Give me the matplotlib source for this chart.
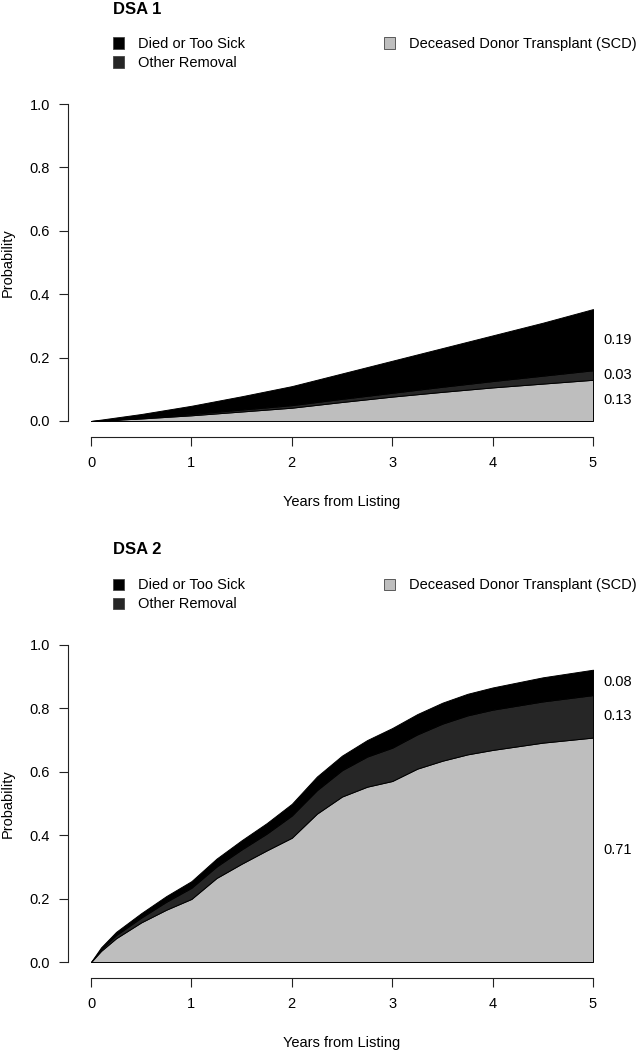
import numpy as np
import matplotlib.pyplot as plt
from matplotlib.patches import Rectangle

plt.rcParams['font.family'] = ['Liberation Sans', 'DejaVu Sans']
plt.rcParams['font.size'] = 10.5

# DSA 1: cumulative incidence by years from listing
years_1 = [0, 0.5, 1, 1.5, 2, 2.5, 3, 3.5, 4, 4.5, 5]
transplant_1 = [0, 0.008, 0.018, 0.03, 0.042, 0.06, 0.077, 0.092, 0.106, 0.118, 0.13]
other_1 = [0, 0.002, 0.004, 0.006, 0.008, 0.01, 0.012, 0.016, 0.02, 0.025, 0.03]
died_1 = [0, 0.012, 0.026, 0.042, 0.06, 0.08, 0.101, 0.122, 0.144, 0.167, 0.193]

# DSA 2
years_2 = [0, 0.1, 0.25, 0.5, 0.75, 1.0, 1.25, 1.5, 1.75, 2.0,
           2.25, 2.5, 2.75, 3.0, 3.25, 3.5, 3.75, 4.0, 4.5, 5.0]
transplant_2 = [0, 0.035, 0.075, 0.125, 0.165, 0.199, 0.265, 0.31, 0.352, 0.392,
                0.468, 0.522, 0.553, 0.571, 0.61, 0.635, 0.655, 0.669, 0.692, 0.708]
other_2 = [0, 0.005, 0.01, 0.015, 0.025, 0.035, 0.036, 0.045, 0.053, 0.07,
           0.074, 0.083, 0.095, 0.105, 0.108, 0.117, 0.123, 0.127, 0.13, 0.134]
died_2 = [0, 0.006, 0.01, 0.014, 0.018, 0.021, 0.025, 0.029, 0.033, 0.037,
          0.043, 0.046, 0.052, 0.062, 0.064, 0.066, 0.068, 0.07, 0.076, 0.08]

outcomes = ['Died or Too Sick', 'Other Removal', 'Deceased Donor Transplant (SCD)']
outcome_colors = ['#000000', '#262626', '#bebebe']

W, H = 640, 1050


def fx(px):
    return px / W


def fy(py):
    return 1 - py / H


def draw_panel(fig, off, title, years, transplant, other, died):
    ax = fig.add_axes([fx(91), fy(421 + off), (593 - 91) / W, 317 / H])

    # stacked from the bottom: transplant, other removal, died
    polys = ax.stackplot(years, transplant, other, died,
                         colors=[outcome_colors[2], outcome_colors[1], outcome_colors[0]],
                         edgecolor='black', linewidth=0.7)
    for p in polys:
        p.set_clip_on(False)

    ax.set_xlim(0, 5)
    ax.set_ylim(0, 1)
    ax.set_xticks(range(6))
    ax.set_yticks(np.arange(0, 1.01, 0.2))
    ax.set_yticklabels(['0.0', '0.2', '0.4', '0.6', '0.8', '1.0'])

    ax.spines['top'].set_visible(False)
    ax.spines['right'].set_visible(False)
    ax.spines['left'].set_position(('outward', 16.6))
    ax.spines['bottom'].set_position(('outward', 11.5))
    for s in ['left', 'bottom']:
        ax.spines[s].set_linewidth(0.8)
        ax.spines[s].set_color('#222222')
    ax.tick_params(axis='both', length=6.5, width=0.8, color='#222222', labelsize=10.5)
    ax.tick_params(axis='x', pad=7.5)
    ax.tick_params(axis='y', pad=6.3)

    ax.set_xlabel('Years from Listing', fontsize=10.5)
    ax.xaxis.label.set_verticalalignment('baseline')
    ax.xaxis.set_label_coords(0.5, -(506 - 421) / 317)
    ax.set_ylabel('Probability', fontsize=10.5)
    ax.yaxis.label.set_verticalalignment('center')
    ax.yaxis.set_label_coords(-(91 - 8) / 502, 0.5)

    # end values, placed at the middle of each band
    t, o, d = transplant[-1], other[-1], died[-1]
    ax.text(5.1, t + o + d / 2, f'{d:.2f}', va='center', ha='left', clip_on=False)
    ax.text(5.1, t + o / 2, f'{o:.2f}', va='center', ha='left', clip_on=False)
    ax.text(5.1, t / 2, f'{t:.2f}', va='center', ha='left', clip_on=False)

    # title and legend
    fig.text(fx(113), fy(13.5 + off), title, fontsize=12, fontweight='bold', va='baseline')
    spots = [(113, 43), (113, 62), (384, 43)]
    for (px, py), name, col in zip(spots, outcomes, outcome_colors):
        fig.add_artist(Rectangle((fx(px), fy(py + 5.5 + off)), 11 / W, 11 / H,
                                 transform=fig.transFigure, facecolor=col,
                                 edgecolor='#444444', linewidth=0.6))
        fig.text(fx(px + 25), fy(py + 5.2 + off), name, fontsize=10.5, va='baseline')
    return ax


fig = plt.figure(figsize=(6.4, 10.5), dpi=100)
draw_panel(fig, 0, 'DSA 1', years_1, transplant_1, other_1, died_1)
draw_panel(fig, 541, 'DSA 2', years_2, transplant_2, other_2, died_2)
fig.savefig('out.png', dpi=100)
